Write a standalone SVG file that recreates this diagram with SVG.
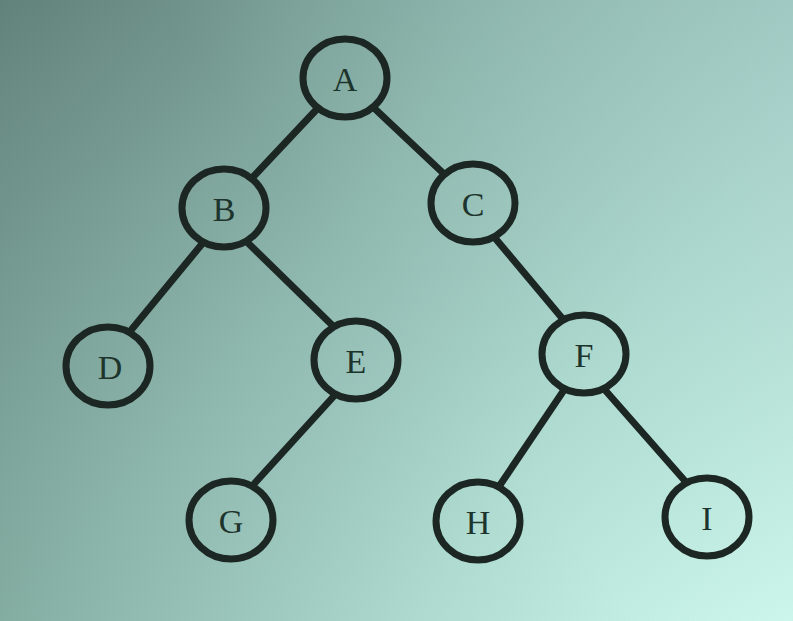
<svg xmlns="http://www.w3.org/2000/svg" width="793" height="621" viewBox="0 0 793 621">
<defs>
<linearGradient id="bg" gradientUnits="userSpaceOnUse" x1="0" y1="0" x2="793" y2="621">
<stop offset="0" stop-color="#5e7e76"/>
<stop offset="0.4" stop-color="#8db6ad"/>
<stop offset="0.7" stop-color="#b0dcd2"/>
<stop offset="1" stop-color="#d0faee"/>
</linearGradient>
<linearGradient id="tint" gradientUnits="userSpaceOnUse" x1="0" y1="621" x2="793" y2="0">
<stop offset="0" stop-color="#6f9a86" stop-opacity="0.25"/>
<stop offset="0.5" stop-color="#9fcbc3" stop-opacity="0"/>
<stop offset="1" stop-color="#94b8b8" stop-opacity="0.35"/>
</linearGradient>
</defs>
<style>
.edge{stroke:#1c2724;stroke-width:7;stroke-linecap:round;fill:none}
.node ellipse{fill:none;stroke:#1c2724;stroke-width:7}
.node text{font-family:"Liberation Serif","DejaVu Serif",serif;font-size:34px;fill:#1d342c;text-anchor:middle}
</style>
<rect width="793" height="621" fill="url(#bg)"/>
<rect width="793" height="621" fill="url(#tint)"/>
<g id="edges">
<line class="edge" x1="317" y1="109" x2="253" y2="177"/>
<line class="edge" x1="374" y1="108" x2="443" y2="173"/>
<line class="edge" x1="202" y1="244" x2="132" y2="329"/>
<line class="edge" x1="248" y1="243" x2="332" y2="325"/>
<line class="edge" x1="495" y1="238" x2="562" y2="318"/>
<line class="edge" x1="334" y1="396" x2="254" y2="484"/>
<line class="edge" x1="564" y1="390" x2="500" y2="485"/>
<line class="edge" x1="605" y1="390" x2="685" y2="481"/>
</g>
<g id="node-A" class="node"><ellipse cx="345" cy="78" rx="42" ry="39"/><text x="345" y="91">A</text></g>
<g id="node-B" class="node"><ellipse cx="224" cy="208" rx="42" ry="39"/><text x="224" y="221">B</text></g>
<g id="node-C" class="node"><ellipse cx="473" cy="203" rx="42" ry="39"/><text x="473" y="216">C</text></g>
<g id="node-D" class="node"><ellipse cx="108" cy="366" rx="42" ry="39"/><text x="110" y="379">D</text></g>
<g id="node-E" class="node"><ellipse cx="356" cy="360" rx="42" ry="39"/><text x="356" y="373">E</text></g>
<g id="node-F" class="node"><ellipse cx="584" cy="354" rx="42" ry="39"/><text x="584" y="367">F</text></g>
<g id="node-G" class="node"><ellipse cx="231" cy="520" rx="42" ry="39"/><text x="231" y="533">G</text></g>
<g id="node-H" class="node"><ellipse cx="478" cy="521" rx="42" ry="39"/><text x="478" y="534">H</text></g>
<g id="node-I" class="node"><ellipse cx="707" cy="517" rx="42" ry="39"/><text x="707" y="530">I</text></g>
</svg>
